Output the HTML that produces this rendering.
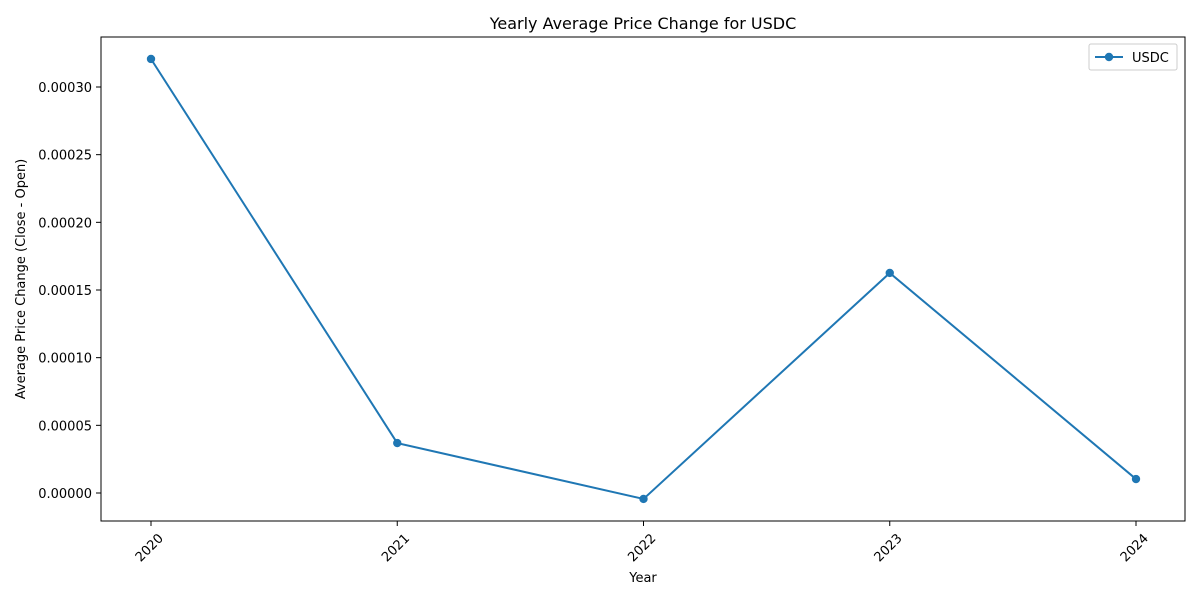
<!DOCTYPE html>
<html><head><meta charset="utf-8"><style>
body{margin:0;background:#fff;font-family:"Liberation Sans","DejaVu Sans",sans-serif;}
</style></head><body>
<svg width="1200" height="600" xmlns="http://www.w3.org/2000/svg" font-family="DejaVu Sans, Liberation Sans, sans-serif">
<rect width="1200" height="600" fill="#fff"/>
<text x="643" y="29" font-size="16" text-anchor="middle">Yearly Average Price Change for USDC</text>
<g id="axes"></g>
<rect x="101" y="37" width="1084" height="484" fill="none" stroke="#000" stroke-width="1"/>
<text x="643" y="582" font-size="13" text-anchor="middle">Year</text>
<text transform="translate(25,279) rotate(-90)" font-size="13" text-anchor="middle">Average Price Change (Close - Open)</text>
<g>
<rect x="1089" y="44" width="88" height="26" fill="#fff" stroke="#ccc" rx="2"/>
<line x1="1095" y1="57" x2="1123" y2="57" stroke="#1f77b4" stroke-width="2"/>
<circle cx="1109" cy="57" r="4.2" fill="#1f77b4"/>
<text x="1132" y="62" font-size="13">USDC</text>
</g>
</svg>
<script>
const years=["2020","2021","2022","2023","2024"];
const values=[0.0003207,0.0000369,-0.0000044,0.0001626,0.0000103];
const yTicks=[0,0.00005,0.0001,0.00015,0.0002,0.00025,0.0003];
const NS="http://www.w3.org/2000/svg";
const g=document.getElementById("axes");
const xs=i=>151+i*(1136-151)/(years.length-1);
const ys=v=>493-v*(406/0.0003);
function mk(t,a){const e=document.createElementNS(NS,t);for(const k in a)e.setAttribute(k,a[k]);g.appendChild(e);return e;}
yTicks.forEach(v=>{
 const t=mk("line",{x1:96,x2:101,y1:ys(v),y2:ys(v),stroke:"#000"});
 
 
 const l=mk("text",{x:92,y:ys(v)+5,"font-size":13,"text-anchor":"end"});
 l.textContent=v.toFixed(5);
 
 
});
years.forEach((y,i)=>{
 const x=xs(i);
 const t=mk("line",{x1:x,x2:x,y1:521,y2:526,stroke:"#000"});
 
 
 const l=mk("text",{x:0,y:0,"font-size":13,"text-anchor":"end",transform:`translate(${x+13},${539}) rotate(-45)`});
 l.textContent=y;
 
 
});
const line=mk("polyline",{points:values.map((v,i)=>xs(i)+","+ys(v)).join(" "),fill:"none",stroke:"#1f77b4","stroke-width":2});


values.forEach((v,i)=>{
 const c=mk("circle",{cx:xs(i),cy:ys(v),r:4.2,fill:"#1f77b4"});
 
 
});
</script>
</body></html>
